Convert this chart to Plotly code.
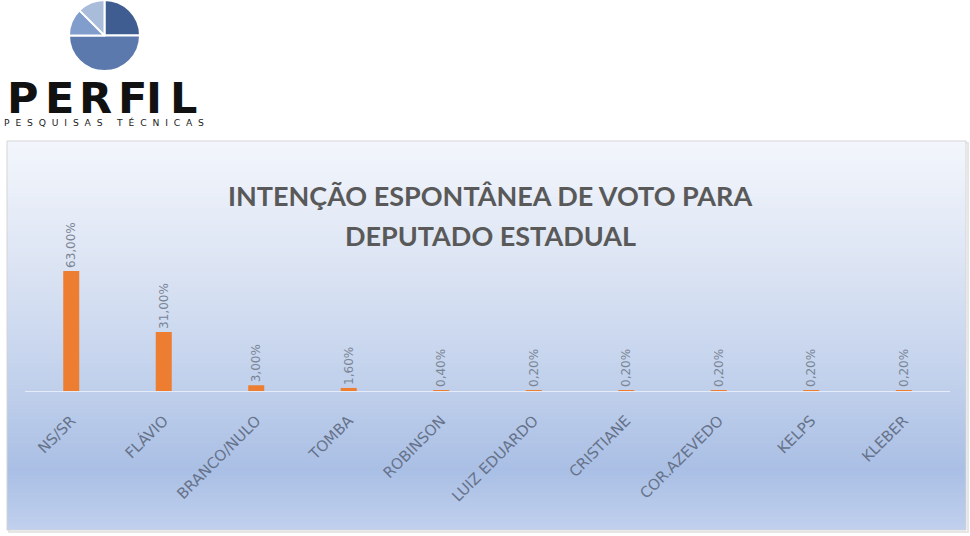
import plotly.graph_objects as go

categories = ["NS/SR", "FLÁVIO", "BRANCO/NULO", "TOMBA", "ROBINSON",
              "LUIZ EDUARDO", "CRISTIANE", "COR.AZEVEDO", "KELPS", "KLEBER"]
values = [63.0, 31.0, 3.0, 1.6, 0.4, 0.2, 0.2, 0.2, 0.2, 0.2]
value_labels = ["63,00%", "31,00%", "3,00%", "1,60%", "0,40%",
                "0,20%", "0,20%", "0,20%", "0,20%", "0,20%"]
title_lines = ["INTENÇÃO ESPONTÂNEA DE VOTO PARA", "DEPUTADO ESTADUAL"]
logo_slices = [25, 50, 12.5, 12.5]
logo_colors = ["#3f5d90", "#5b79ad", "#809dcc", "#a9bcda"]
brand = "PERFIL"
subbrand = "PESQUISAS TÉCNICAS"

W, H = 970, 536

def px(x):
    return x / W

def py(y):
    return 1 - y / H

fig = go.Figure()

# bars
fig.add_trace(go.Bar(
    x=categories, y=values, text=value_labels,
    textposition="outside", textangle=-90, cliponaxis=False, constraintext="none",
    textfont=dict(family="DejaVu Sans", size=12, color="#7a8595"),
    marker=dict(color="#ED7D31", line=dict(width=0)),
    showlegend=False, hoverinfo="skip",
))

# logo pie
fig.add_trace(go.Pie(
    values=logo_slices, sort=False, direction="clockwise", rotation=0,
    marker=dict(colors=logo_colors, line=dict(color="white", width=2)),
    textinfo="none", hoverinfo="skip", showlegend=False,
    domain=dict(x=[px(69), px(140)], y=[py(71), py(0)]),
))

# gradient background of chart box
stops = [(141, (243, 246, 252)), (260, (221, 229, 244)), (391, (191, 207, 235)),
         (470, (170, 191, 229)), (530, (192, 208, 237))]

def col(y):
    for (y0, c0), (y1, c1) in zip(stops[:-1], stops[1:]):
        if y0 <= y <= y1:
            t = (y - y0) / (y1 - y0)
            return "rgb(%d,%d,%d)" % tuple(round(a + (b - a) * t) for a, b in zip(c0, c1))
    return "rgb(%d,%d,%d)" % stops[-1][1]

shapes = [dict(type="rect", xref="paper", yref="paper",
               x0=px(9), x1=px(968), y0=py(532), y1=py(143),
               fillcolor="rgba(0,0,0,0)", line=dict(color="#e6e6e6", width=2), layer="below")]
y = 141
while y < 530:
    y2 = min(y + 2, 530)
    shapes.append(dict(type="rect", xref="paper", yref="paper",
                       x0=px(7), x1=px(966), y0=py(y2), y1=py(y),
                       fillcolor=col(y + 1), line=dict(width=0), layer="below"))
    y = y2
shapes.append(dict(type="rect", xref="paper", yref="paper",
                   x0=px(7), x1=px(966), y0=py(530), y1=py(141),
                   fillcolor="rgba(0,0,0,0)", line=dict(color="#d4d4d4", width=1), layer="below"))

annotations = []
# title
for i, line in enumerate(title_lines):
    annotations.append(dict(text="<b>%s</b>" % line, xref="paper", yref="paper",
                            x=px(490), y=py(195 + i * 40), xanchor="center", yanchor="middle",
                            showarrow=False,
                            font=dict(family="Lato", size=27, color="#595959")))

# logo brand letters (centred on their place in the logo)
brand_cx = [22.5, 59, 95.5, 132, 154, 183]
for ch, cx in zip(brand, brand_cx):
    annotations.append(dict(text="<b>%s</b>" % ch, xref="paper", yref="paper",
                            x=px(cx), y=py(97.5), xanchor="center", yanchor="middle",
                            showarrow=False, borderpad=0, height=34, valign="middle",
                            font=dict(family="DejaVu Sans", size=43, color="#111111")))
# sub-brand (letter-spaced)
spaced = "\u00a0\u00a0".join(subbrand)
annotations.append(dict(text=spaced, xref="paper", yref="paper",
                        x=px(3), y=py(122.5), xanchor="left", yanchor="middle",
                        showarrow=False, borderpad=0,
                        font=dict(family="DejaVu Sans", size=9.2, color="#222222")))

fig.update_layout(
    width=W, height=H,
    margin=dict(l=0, r=0, t=0, b=0),
    paper_bgcolor="white", plot_bgcolor="rgba(0,0,0,0)",
    bargap=0.827,
    shapes=shapes, annotations=annotations,
    xaxis=dict(domain=[px(25), px(950)], showline=True, linecolor="rgba(232,238,248,0.9)",
               linewidth=1, showgrid=False, zeroline=False, ticks="", tickangle=-45,
               automargin=False, ticklabelstandoff=14,
               tickfont=dict(family="DejaVu Sans", size=15, color="#66738a")),
    yaxis=dict(domain=[py(391), py(150)], range=[0, (391 - 150) / 1.905],
               visible=False, showgrid=False, zeroline=False, automargin=False),
)

fig.write_html("out.html", config={"displayModeBar": False},
               post_script="document.body.style.margin='0';")
